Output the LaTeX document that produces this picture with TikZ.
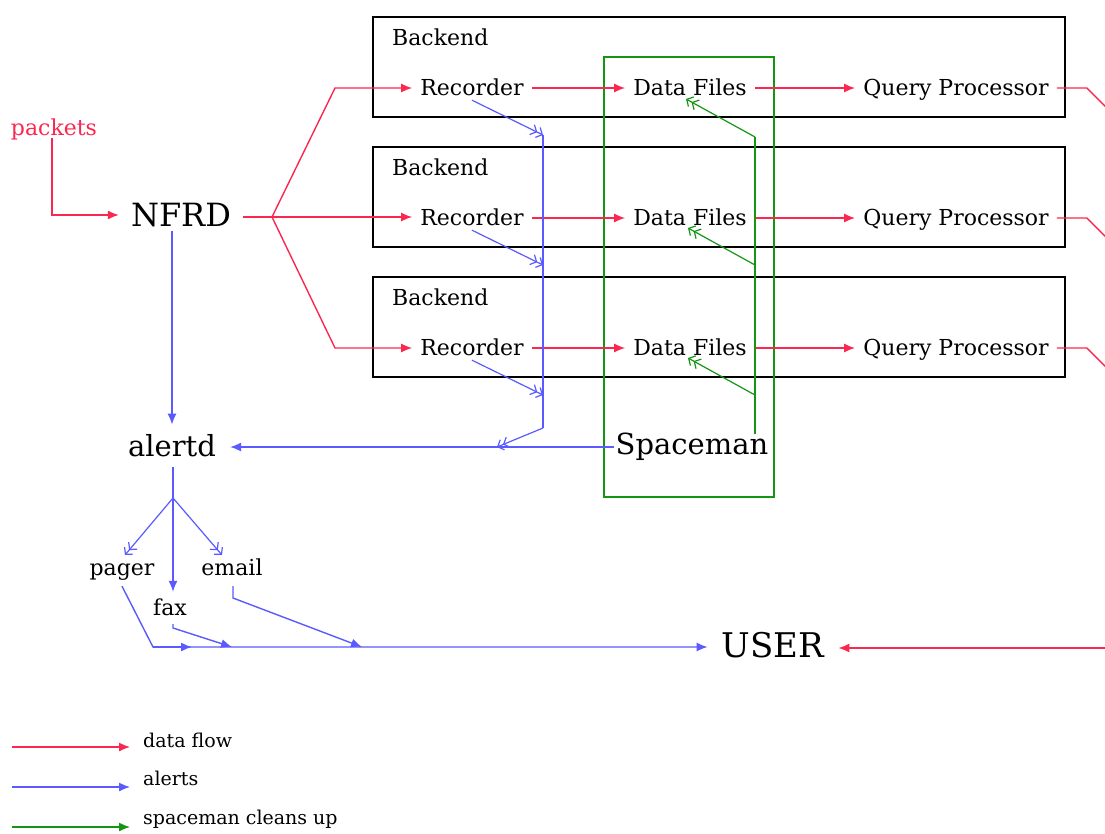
\documentclass[tikz,border=0pt]{standalone}
\usepackage{fontspec}
\setmainfont{DejaVu Serif}
\usetikzlibrary{arrows.meta}
\definecolor{flowred}{RGB}{250,40,80}
\definecolor{alertblue}{RGB}{90,90,255}
\definecolor{cleangreen}{RGB}{20,150,20}
\tikzset{
  lbl/.style={inner xsep=8pt, inner ysep=2pt, text height=17pt, text depth=3pt, font=\fontsize{22}{24}\selectfont},
  biglbl/.style={inner xsep=6pt, inner ysep=4pt, font=\fontsize{#1}{#1}\selectfont},
  legendtxt/.style={inner sep=0pt, anchor=west, font=\fontsize{19}{20}\selectfont},
  tipfull/.tip={Latex[length=11pt,width=9pt]},
  tipopen/.tip={Straight Barb[length=5pt,width=11pt] Straight Barb[length=5pt,width=11pt]},
  data/.style={draw=flowred, line width=1.4pt, -tipfull},
  alert/.style={draw=alertblue, line width=1.4pt, -tipfull},
  alertline/.style={draw=alertblue, line width=1.4pt},
  alertv/.style={draw=alertblue, line width=1.2pt, -tipopen},
  clean/.style={draw=cleangreen, line width=1.4pt, -tipfull},
  cleanline/.style={draw=cleangreen, line width=1.4pt},
  cleanv/.style={draw=cleangreen, line width=1.2pt, -tipopen},
  backendbox/.style={draw=black, line width=1.6pt, minimum width=692pt, minimum height=100pt, inner sep=0pt},
  spacebox/.style={draw=cleangreen, line width=1.5pt, minimum width=170pt, minimum height=440pt, inner sep=0pt},
}
\begin{document}
\begin{tikzpicture}[x=1pt,y=-1pt]
\useasboundingbox (0,0) rectangle (1105,833);
\clip (0,0) rectangle (1105,833);

% three backend boxes
\node[backendbox] (be1) at (719,67) {};
\node[backendbox] (be2) at (719,197) {};
\node[backendbox] (be3) at (719,327) {};
\node[lbl, anchor=west, inner xsep=0pt] (bl1) at (392,38) {Backend};
\node[lbl, anchor=west, inner xsep=0pt] (bl2) at (392,168) {Backend};
\node[lbl, anchor=west, inner xsep=0pt] (bl3) at (392,298) {Backend};

% spaceman's area
\node[spacebox] (spbox) at (689,277) {};

% components in each backend
\foreach \i/\y in {1/88,2/218,3/348}{
  \node[lbl] (rec\i) at (472,\y) {Recorder};
  \node[lbl] (df\i) at (690,\y) {Data Files};
  \node[lbl] (qp\i) at (956,\y) {Query Processor};
}

% other processes
\node[lbl, text=flowred, inner sep=0pt] (packets) at (54,128) {packets};
\node[biglbl=32, inner xsep=12pt] (nfrd) at (181,215) {NFRD};
\node[biglbl=29, inner xsep=14pt, inner ysep=10pt] (alertd) at (172,446) {alertd};
\node[biglbl=29, inner xsep=2pt] (spaceman) at (692,447) {Spaceman};
\node[biglbl=34, inner xsep=14pt] (user) at (773,645) {USER};
\node[lbl, inner xsep=0pt, inner ysep=8pt] (pager) at (122,568) {pager};
\node[lbl, inner xsep=0pt, inner ysep=8pt] (email) at (232,568) {email};
\node[lbl, inner xsep=0pt, inner ysep=6pt] (fax) at (170,608) {fax};

% data flow
\coordinate (fork) at (272,217);
\draw[data] (packets.south -| 52,0) |- (nfrd.west);
\draw[data] (nfrd.east |- fork) -- (fork) -- (rec2.west |- fork);
\draw[data] (fork) -- (335,88) -- (rec1.west);
\draw[data] (fork) -- (335,348) -- (rec3.west);
\foreach \i in {1,2,3}{
  \draw[data] (rec\i.east) -- (df\i.west);
  \draw[data] (df\i.east) -- (qp\i.west);
  \draw[data] (qp\i.east) -- ++(30,0) -- ++(36,36);
}
\coordinate (qpin) at (1110,648);
\draw[data] (qpin) -- (user.east |- qpin);

% alerts
\draw[alert] (nfrd.south -| alertd.north) -- (alertd.north);
\draw[alert] (spaceman.west) -- (alertd.east |- spaceman.west);
\coordinate (bus1) at (543,135);
\coordinate (bus2) at (543,265);
\coordinate (bus3) at (543,395);
\coordinate (busend) at (543,428);
\coordinate (busjoin) at (497,447);
\draw[alertv] (rec1.south) -- (bus1);
\draw[alertv] (rec2.south) -- (bus2);
\draw[alertv] (rec3.south) -- (bus3);
\draw[alertline] (bus1) -- (busend);
\draw[alertv] (busend) -- (busjoin);

\draw[alertline] (alertd.south -| 173,0) -- (173,498) coordinate (asplit);
\draw[alertv] (asplit) -- (125,555);
\draw[alertv] (asplit) -- (222,555);
\draw[alert] (asplit) -- (asplit |- fax.north);

\draw[alert] (pager.south) -- (153,647) coordinate (ubus) -- (user.west |- ubus);
\draw[alert] (ubus) -- (192,647);
\draw[alert] (fax.south -| 173,0) -- (173,628) -- (232,647);
\draw[alert] (email.south -| 233,0) -- (233,598) -- (362,647);

% spaceman cleans up
\coordinate (sptop) at (755,137);
\draw[cleanline] (755,434) -- (sptop);
\draw[cleanv] (sptop) -- (686,99);
\draw[cleanv] (755,265) -- (688,228);
\draw[cleanv] (755,395) -- (688,358);

% legend
\coordinate (l1a) at (12,747); \coordinate (l1b) at (130,747);
\coordinate (l2a) at (12,787); \coordinate (l2b) at (130,787);
\coordinate (l3a) at (12,827); \coordinate (l3b) at (130,827);
\draw[data] (l1a) -- (l1b);
\draw[alert] (l2a) -- (l2b);
\draw[clean] (l3a) -- (l3b);
\node[legendtxt] (lt1) at (143,740) {data flow};
\node[legendtxt] (lt2) at (143,778) {alerts};
\node[legendtxt] (lt3) at (143,819) {spaceman cleans up};
\end{tikzpicture}
\end{document}
